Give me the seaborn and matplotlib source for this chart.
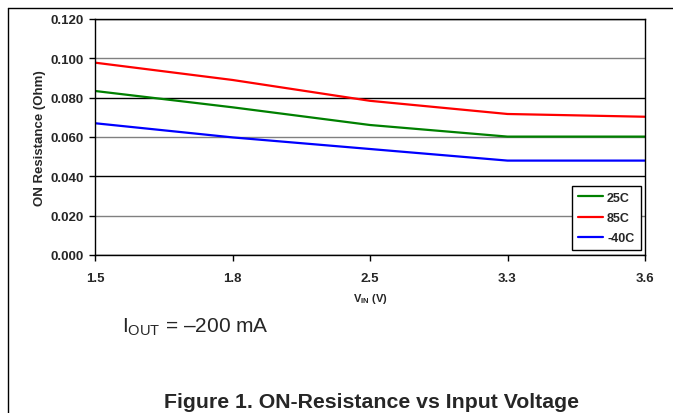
import matplotlib
matplotlib.use("Agg")
import matplotlib.pyplot as plt
from matplotlib.lines import Line2D
from matplotlib.ticker import FormatStrFormatter
import seaborn as sns
import pandas as pd

# ---- data ----
vin_labels = ["1.5", "1.8", "2.5", "3.3", "3.6"]
r_25c = [0.0834, 0.0751, 0.0661, 0.0602, 0.0602]
r_85c = [0.0978, 0.0890, 0.0784, 0.0717, 0.0703]
r_m40c = [0.0670, 0.0598, 0.0539, 0.0480, 0.0480]
series_names = ["25C", "85C", "-40C"]
series_colors = ["#008000", "#FF0000", "#0000FF"]

rows = []
for name, vals in zip(series_names, [r_25c, r_85c, r_m40c]):
    for v, r in zip(vin_labels, vals):
        rows.append({"VIN": v, "Temp": name, "R": r})
df = pd.DataFrame(rows)

sns.set_theme(style="white")
plt.rcParams["font.family"] = ["Liberation Sans", "DejaVu Sans"]
plt.rcParams["mathtext.fontset"] = "custom"
plt.rcParams["mathtext.rm"] = "Liberation Sans"
plt.rcParams["mathtext.bf"] = "Liberation Sans:bold"
plt.rcParams["mathtext.it"] = "Liberation Sans:italic"

fig = plt.figure(figsize=(6.73, 4.14), dpi=100)
W, H = 673, 414
ax = fig.add_axes([95 / W, 1 - 256 / H, (645 - 95) / W, (256 - 20) / H])

sns.lineplot(data=df, x="VIN", y="R", hue="Temp", hue_order=series_names,
             palette=dict(zip(series_names, series_colors)), linewidth=1.6,
             sort=False, ax=ax)

ax.set_xlim(0, len(vin_labels) - 1)
ax.set_ylim(0, 0.12)
ax.set_yticks([0, 0.02, 0.04, 0.06, 0.08, 0.10, 0.12])
ax.yaxis.set_major_formatter(FormatStrFormatter("%.3f"))

ax.grid(axis="y", linewidth=1.0)
for i, gl in enumerate(ax.get_ygridlines()):
    gl.set_color("#808080" if i % 2 == 1 else "#000000")
ax.set_axisbelow(True)

for s in ax.spines.values():
    s.set_color("black")
    s.set_linewidth(1.0)

ax.tick_params(axis="both", which="major", direction="out", length=4, width=1,
               color="black", labelsize=9.5, pad=4, left=True, bottom=True)
for lab in ax.get_xticklabels() + ax.get_yticklabels():
    lab.set_fontweight("bold")
ax.tick_params(axis="x", pad=8)

ax.set_ylabel("ON Resistance (Ohm)", fontsize=9.5, fontweight="bold", labelpad=3)
ax.set_xlabel(r"V$_{\mathbf{IN}}$ (V)", fontsize=8, fontweight="bold", labelpad=5)

leg = ax.legend(loc="lower right", bbox_to_anchor=(0.992, 0.02), fontsize=9,
                frameon=True, fancybox=False, edgecolor="black", framealpha=1,
                handlelength=2.0, handletextpad=0.3, labelspacing=0.65,
                borderpad=0.5, borderaxespad=0)
leg.get_frame().set_linewidth(1.0)
for t in leg.get_texts():
    t.set_fontweight("bold")

# outer frame lines
fig.add_artist(Line2D([8 / W, 1], [1 - 9 / H, 1 - 9 / H], color="black", lw=1.0))
fig.add_artist(Line2D([8 / W, 8 / W], [0, 1 - 9 / H], color="black", lw=1.0))

fig.text(122 / W, 1 - 333 / H, r"I$_{\mathrm{OUT}}$ = –200 mA", fontsize=15,
         ha="left", va="baseline")
fig.text(372 / W, 1 - 408 / H, "Figure 1. ON-Resistance vs Input Voltage",
         fontsize=15.3, fontweight="bold", ha="center", va="baseline")

fig.savefig("out.png", dpi=100)
